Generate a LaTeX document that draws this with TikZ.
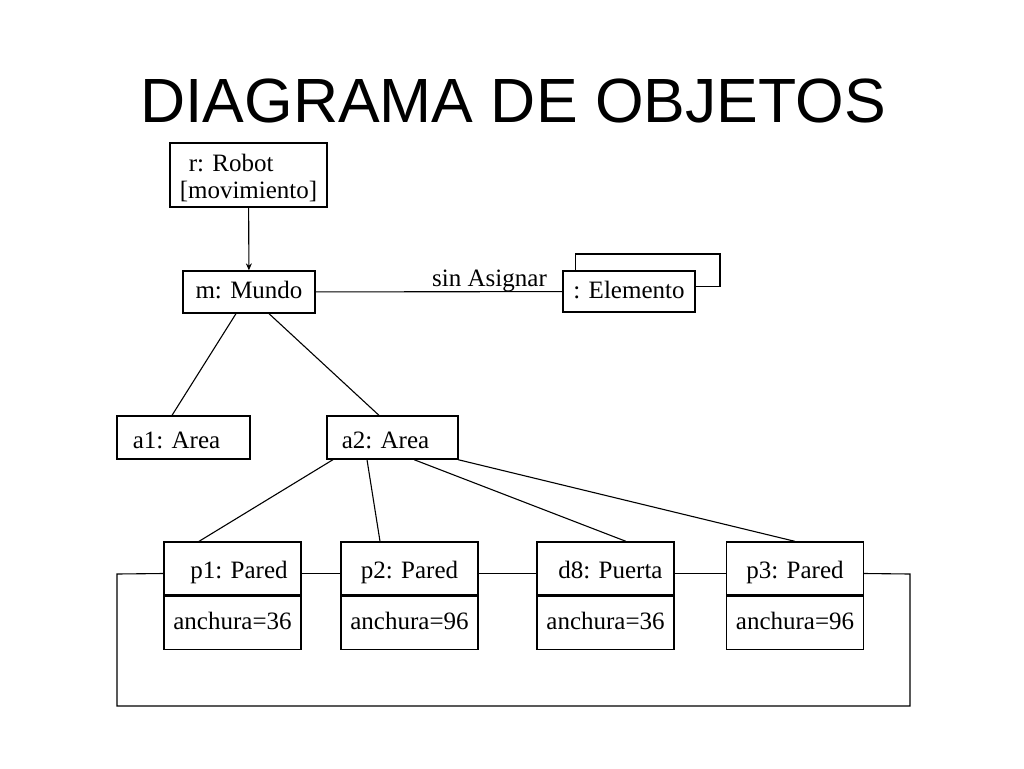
\documentclass[tikz,border=0pt]{standalone}
\usepackage{fontspec}
\setmainfont{Liberation Serif}
\newfontfamily\titlefont{Liberation Sans}
\usetikzlibrary{arrows.meta,positioning}
\begin{document}
\begin{tikzpicture}[x=1pt,y=-1pt,
  texto/.style={font=\fontsize{25}{27}\selectfont},
  objeto/.style={texto,draw,line width=1.3pt,inner sep=0pt,minimum height=42pt,text height=17pt,text depth=4pt},
  enlace/.style={line width=1.1pt}]
  \useasboundingbox[fill=white] (0,0) rectangle (1024,768);
  %\draw (0,0) rectangle (1024,768);
  \node[anchor=base,font=\titlefont\fontsize{62.5}{70}\selectfont] (titulo) at (513,122) {DIAGRAMA DE OBJETOS};
  \node[texto,draw,line width=1.3pt,inner sep=0pt,minimum width=157pt,minimum height=64pt,align=left] (r) at (248.5,175) {\rule{0pt}{23pt}\hspace*{9pt}r: Robot\\{}[movimiento]};
  \node[objeto,minimum width=132pt] (m) at (249,292) {m: Mundo};
  \node[objeto,minimum width=132pt,minimum height=41pt] (e) at (629,291.5) {: Elemento};
  \node[objeto,minimum width=133pt,minimum height=43pt,text height=23pt,text depth=1pt] (a1) at (183.5,437.5) {a1: Area\hspace*{14pt}};
  \node[objeto,minimum width=131pt,minimum height=43pt,text height=23pt,text depth=1pt] (a2) at (392.5,437.5) {a2: Area\hspace*{14pt}};
  \foreach \n/\t/\h/\v/\x in {p1/p1: Pared/13/36/232.5, p2/p2: Pared/0/96/409.5, d8/d8: Puerta/10/36/605.5, p3/p3: Pared/0/96/795} {
    \node[objeto,minimum width=137pt,minimum height=53pt,text height=21pt,text depth=2pt] (\n) at (\x,568.5) {\hspace*{\h pt}\t};
    \node[objeto,minimum width=137pt,minimum height=53pt,below=0pt of \n] (v\n) {anchura=\v};
  }
  \draw[enlace,-{Stealth[length=7pt,width=6pt]}] (r) -- (m);
  \draw[enlace] (m) -- (e);
  \node[texto,anchor=base east] (sa) at ([xshift=-12pt,yshift=5pt]e.west) {sin Asignar};
  \coordinate (e1) at (720,254);
  \draw[line width=1.3pt] ([xshift=13pt]e.north west) |- (e1) |- ([yshift=5pt]e.east);
  \draw[enlace] ([xshift=-13pt]m.south) -- ([xshift=-11.5pt]a1.north);
  \draw[enlace] ([xshift=20pt]m.south) -- ([xshift=-13.5pt]a2.north);
  \foreach \d/\n/\s in {-59.5/p1/-33.5, -25.5/p2/-29.5, 21.5/d8/20.5, 65.5/p3/0}
    \draw[enlace] ([xshift=\d pt]a2.south) -- ([xshift=\s pt]\n.north);
  \foreach \a/\b in {p1/p2, p2/d8, d8/p3}
    \draw[enlace] ([yshift=-5pt]\a.east) -- ([yshift=-5pt]\b.west);
  \coordinate (lt) at (117,574);
  \coordinate (lb) at (117,706);
  \coordinate (rb) at (910,706);
  \coordinate (rt) at (910,574);
  \draw[enlace] ([yshift=-5pt]p1.west) -- (lt) -- (lb) -- (rb) -- (rt) -- ([yshift=-5pt]p3.east);
\end{tikzpicture}
\end{document}
